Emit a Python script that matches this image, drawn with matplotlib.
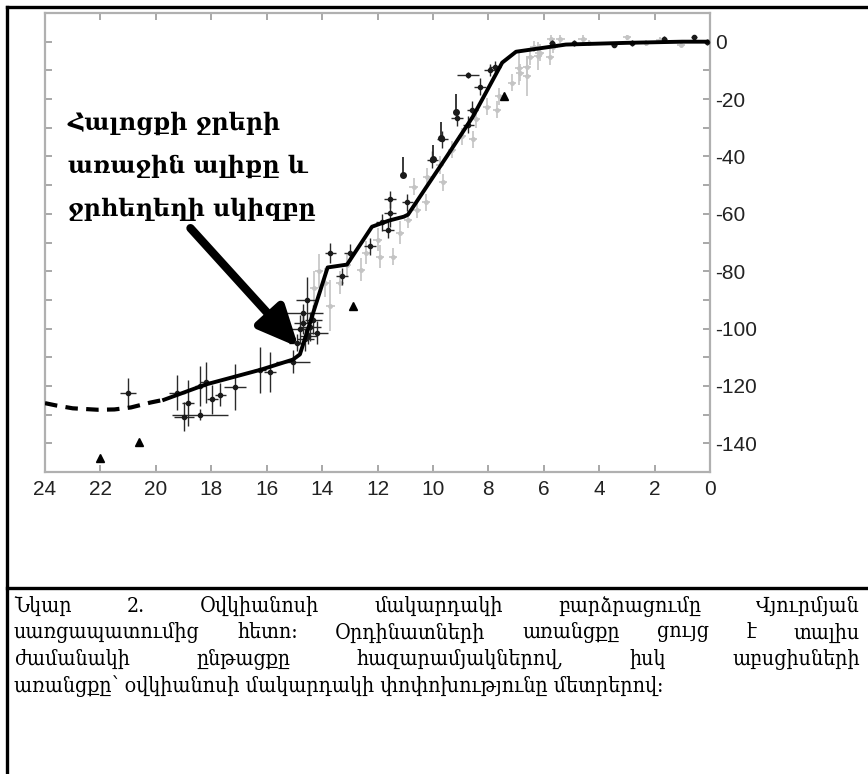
import matplotlib
matplotlib.use("Agg")
import matplotlib.pyplot as plt
from matplotlib.lines import Line2D

plt.rcParams["axes.unicode_minus"] = False

# --- data (thousands of years ago, sea level change in metres) ---
curve_dash_x = [24.0, 23.6, 23.0, 22.1, 21.5, 20.9, 20.2, 19.7]
curve_dash_y = [-126.0, -126.8, -127.8, -128.3, -128.2, -127.5, -125.8, -124.8]
curve_x = [19.7, 18.2, 16.2, 15.05, 14.8, 13.8, 13.1, 12.2, 11.6, 11.05, 10.9,
           9.5, 8.55, 7.5, 7.0, 5.2, 3.0, 1.0, 0.1]
curve_y = [-124.8, -119.5, -114.3, -110.8, -109.0, -78.7, -77.7, -64.5, -62.4, -61.0,
           -60.3, -40.0, -26.0, -7.3, -3.5, -1.0, -0.4, 0.0, 0.0]

black_x = [21.0, 19.24, 18.84, 19.0, 18.4, 18.4, 18.2, 17.97, 17.68, 17.14, 16.24, 15.88,
           15.05, 14.55, 14.68, 14.8, 14.43, 14.18, 14.6, 14.9, 14.32, 14.7, 14.5,
           13.71, 13.28, 13.0, 12.27, 11.62, 11.55, 11.84, 11.55, 10.93, 10.03, 9.67,
           9.13, 8.73, 8.58, 8.3, 7.94, 7.76, 8.73,
           5.7, 4.9, 3.46, 2.8, 1.65, 0.57, 0.1]
black_y = [-122.3, -122.3, -125.8, -130.7, -130.0, -120.0, -118.8, -124.7, -123.0, -120.5,
           -114.3, -115.0, -111.5, -89.9, -94.5, -100.3, -99.3, -101.4, -103.8, -104.9,
           -96.9, -98.0, -102.5,
           -73.6, -81.8, -73.5, -71.3, -65.5, -59.6, -63.0, -55.0, -56.0, -41.1, -34.0,
           -26.5, -28.9, -23.7, -15.7, -9.8, -8.7, -11.5,
           -0.5, -0.5, -1.0, -0.5, 1.0, 1.5, 0.0]
black_xerr = [0.3, 0.3, 0.2, 0.36, 1.0, 0.2, 0.2, 0.2, 0.2, 0.4, 0.2, 0.2,
              0.6, 0.4, 0.7, 0.4, 0.4, 0.4, 0.3, 0.3, 0.3, 0.3, 0.3,
              0.2, 0.2, 0.2, 0.2, 0.2, 0.2, 0.2, 0.2, 0.2, 0.2, 0.2,
              0.2, 0.2, 0.2, 0.2, 0.2, 0.2, 0.4,
              0.1, 0.1, 0.1, 0.1, 0.1, 0.1, 0.1]
black_yerr = [5.0, 6.0, 8.0, 5.0, 2.0, 7.0, 7.0, 5.0, 4.0, 8.0, 8.0, 7.0,
              4.0, 8.0, 3.0, 5.0, 5.0, 4.0, 4.0, 3.0, 5.0, 4.0, 3.0,
              3.5, 3.0, 3.0, 3.0, 3.0, 5.0, 3.0, 3.0, 3.0, 3.0, 3.0,
              3.0, 3.0, 3.0, 3.0, 2.0, 2.0, 1.0,
              1.0, 1.0, 1.0, 1.0, 1.0, 1.0, 1.0]

gray_x = [13.35, 13.7, 13.1, 12.6, 12.4, 12.0, 11.9, 11.44, 11.2, 10.9, 10.57, 10.25,
          10.7, 10.2, 9.63, 9.75, 9.3, 8.95, 8.55, 8.45, 8.04, 7.68, 7.6, 7.14, 6.85,
          6.6, 6.5, 6.15, 5.77, 5.65, 14.3, 14.1, 13.9,
          6.35, 5.75, 5.4, 4.6, 4.35, 3.0, 2.3, 1.8, 1.04, 6.9, 6.6, 6.2]
gray_y = [-84.0, -92.0, -78.0, -79.5, -73.5, -69.0, -75.0, -75.0, -66.6, -62.0, -58.5, -56.0,
          -50.5, -47.0, -49.0, -43.0, -37.6, -33.0, -34.0, -27.0, -22.6, -23.7, -19.0, -14.3,
          -10.8, -8.7, -5.2, -3.8, -5.2, -2.0, -86.0, -80.0, -84.0,
          -1.7, 1.0, 1.0, 1.0, -0.5, 1.5, -0.5, 0.5, -1.0, -9.0, -12.0, -5.0]
gray_yerr = [4.0, 9.0, 4.0, 4.0, 4.0, 4.0, 4.0, 3.0, 4.0, 3.0, 3.0, 3.0,
             3.0, 3.0, 3.0, 3.0, 3.0, 3.0, 3.0, 3.0, 3.0, 3.0, 3.0, 3.0,
             3.0, 3.0, 3.0, 3.0, 3.0, 2.0, 6.0, 6.0, 5.0,
             2.0, 1.5, 1.5, 1.5, 1.0, 1.0, 1.0, 1.0, 1.0, 6.0, 7.0, 5.0]

limit_x = [11.07, 10.0, 9.7, 9.16]
limit_y = [-46.3, -41.0, -33.5, -24.4]
limit_len = [6.0, 5.0, 5.5, 6.0]

tri_x = [22.0, 20.6, 12.9, 7.43]
tri_y = [-145.0, -139.7, -92.3, -19.0]

x_ticks = list(range(0, 25, 2))
y_major = list(range(-140, 1, 20))
y_minor = list(range(-150, 11, 10))

annot_lines = ["Հալոցքի ջրերի", "առաջին ալիքը և", "ջրհեղեղի սկիզբը"]
caption_lines = [
    "Նկար 2. Օվկիանոսի մակարդակի բարձրացումը Վյուրմյան",
    "սառցապատումից հետո։ Օրդինատների առանցքը ցույց է տալիս",
    "ժամանակի ընթացքը հազարամյակներով, իսկ աբսցիսների",
    "առանցքը՝ օվկիանոսի մակարդակի փոփոխությունը մետրերով։",
]
arrow_tail = (18.75, -65.0)
arrow_head = (14.85, -106.5)

W, H = 868, 774
fig = plt.figure(figsize=(W / 100, H / 100), dpi=100)
ax = fig.add_axes([45 / W, (H - 472) / H, 665 / W, 459 / H])

gray = "#c4c4c4"
ax.errorbar(gray_x, gray_y, yerr=gray_yerr, xerr=0.15, fmt="o", ms=2.5, color=gray,
            ecolor=gray, elinewidth=1.2, capsize=0, zorder=1)
ax.errorbar(black_x, black_y, yerr=black_yerr, xerr=black_xerr, fmt="o", ms=3,
            color="#1a1a1a", ecolor="#2a2a2a", elinewidth=1.0, capsize=0, zorder=3)
ax.errorbar(limit_x, limit_y, yerr=[[0] * len(limit_len), limit_len], fmt="o", ms=4,
            color="#1a1a1a", ecolor="#2a2a2a", elinewidth=1.3, capsize=0, zorder=3)
ax.plot(tri_x, tri_y, "^", color="black", ms=6, zorder=3)

ax.plot(curve_dash_x, curve_dash_y, color="black", lw=3, dashes=(3, 2), zorder=4)
ax.plot(curve_x, curve_y, color="black", lw=2.8, zorder=4, solid_joinstyle="round")

ax.annotate("", xy=arrow_head, xytext=arrow_tail,
            arrowprops=dict(arrowstyle="-|>,head_length=2.4,head_width=1.1",
                            lw=6, color="black", shrinkA=0, shrinkB=0), zorder=5)

ax.set_xlim(24, 0)
ax.set_ylim(-150, 10)
ax.set_xticks(x_ticks)
ax.set_yticks(y_major)
ax.set_yticks(y_minor, minor=True)
ax.yaxis.tick_right()
ax.tick_params(axis="both", which="both", direction="in", color="#999999",
               labelcolor="#222222", labelsize=15, width=1.2, length=5,
               top=True, bottom=True, left=True, right=True)
ax.tick_params(axis="y", which="minor", length=5)
ax.tick_params(axis="y", labelright=True, labelleft=False, pad=4)
ax.tick_params(axis="x", pad=6)
for s in ax.spines.values():
    s.set_color("#b0b0b0")
    s.set_linewidth(1.6)
for lab in ax.get_xticklabels() + ax.get_yticklabels():
    lab.set_family(["Liberation Sans", "DejaVu Sans"])

# annotation text
for i, line in enumerate(annot_lines):
    fig.text(68 / W, 1 - (123 + i * 43) / H, line, fontsize=17, fontweight="bold",
             family=["DejaVu Serif", "DejaVu Sans"], va="center", ha="left")

# frame lines
fig.add_artist(Line2D([7 / W, 7 / W], [0, 1 - 7 / H], color="black", lw=2.4))
fig.add_artist(Line2D([7 / W, 1], [1 - 7 / H, 1 - 7 / H], color="black", lw=2.4))
fig.add_artist(Line2D([7 / W, 1], [1 - 588 / H, 1 - 588 / H], color="black", lw=2.4))

# caption, justified like the source
fig.canvas.draw()
renderer = fig.canvas.get_renderer()
left, right = 14, 860
cap_size = 15.3
cap_kw = dict(fontsize=cap_size, family=["DejaVu Serif", "DejaVu Sans"],
              fontstretch="condensed", va="center")
for i, line in enumerate(caption_lines):
    y = 1 - (606 + i * 26.7) / H
    words = line.split(" ")
    if i == len(caption_lines) - 1:
        fig.text(left / W, y, line, **cap_kw)
        continue
    texts = [fig.text(0, y, w, **cap_kw) for w in words]
    widths = [t.get_window_extent(renderer).width for t in texts]
    gap = max((right - left - sum(widths)) / (len(words) - 1), 4)
    xpos = left
    for t, w in zip(texts, widths):
        t.set_x(xpos / W)
        xpos += w + gap

fig.savefig("out.png", dpi=100)
